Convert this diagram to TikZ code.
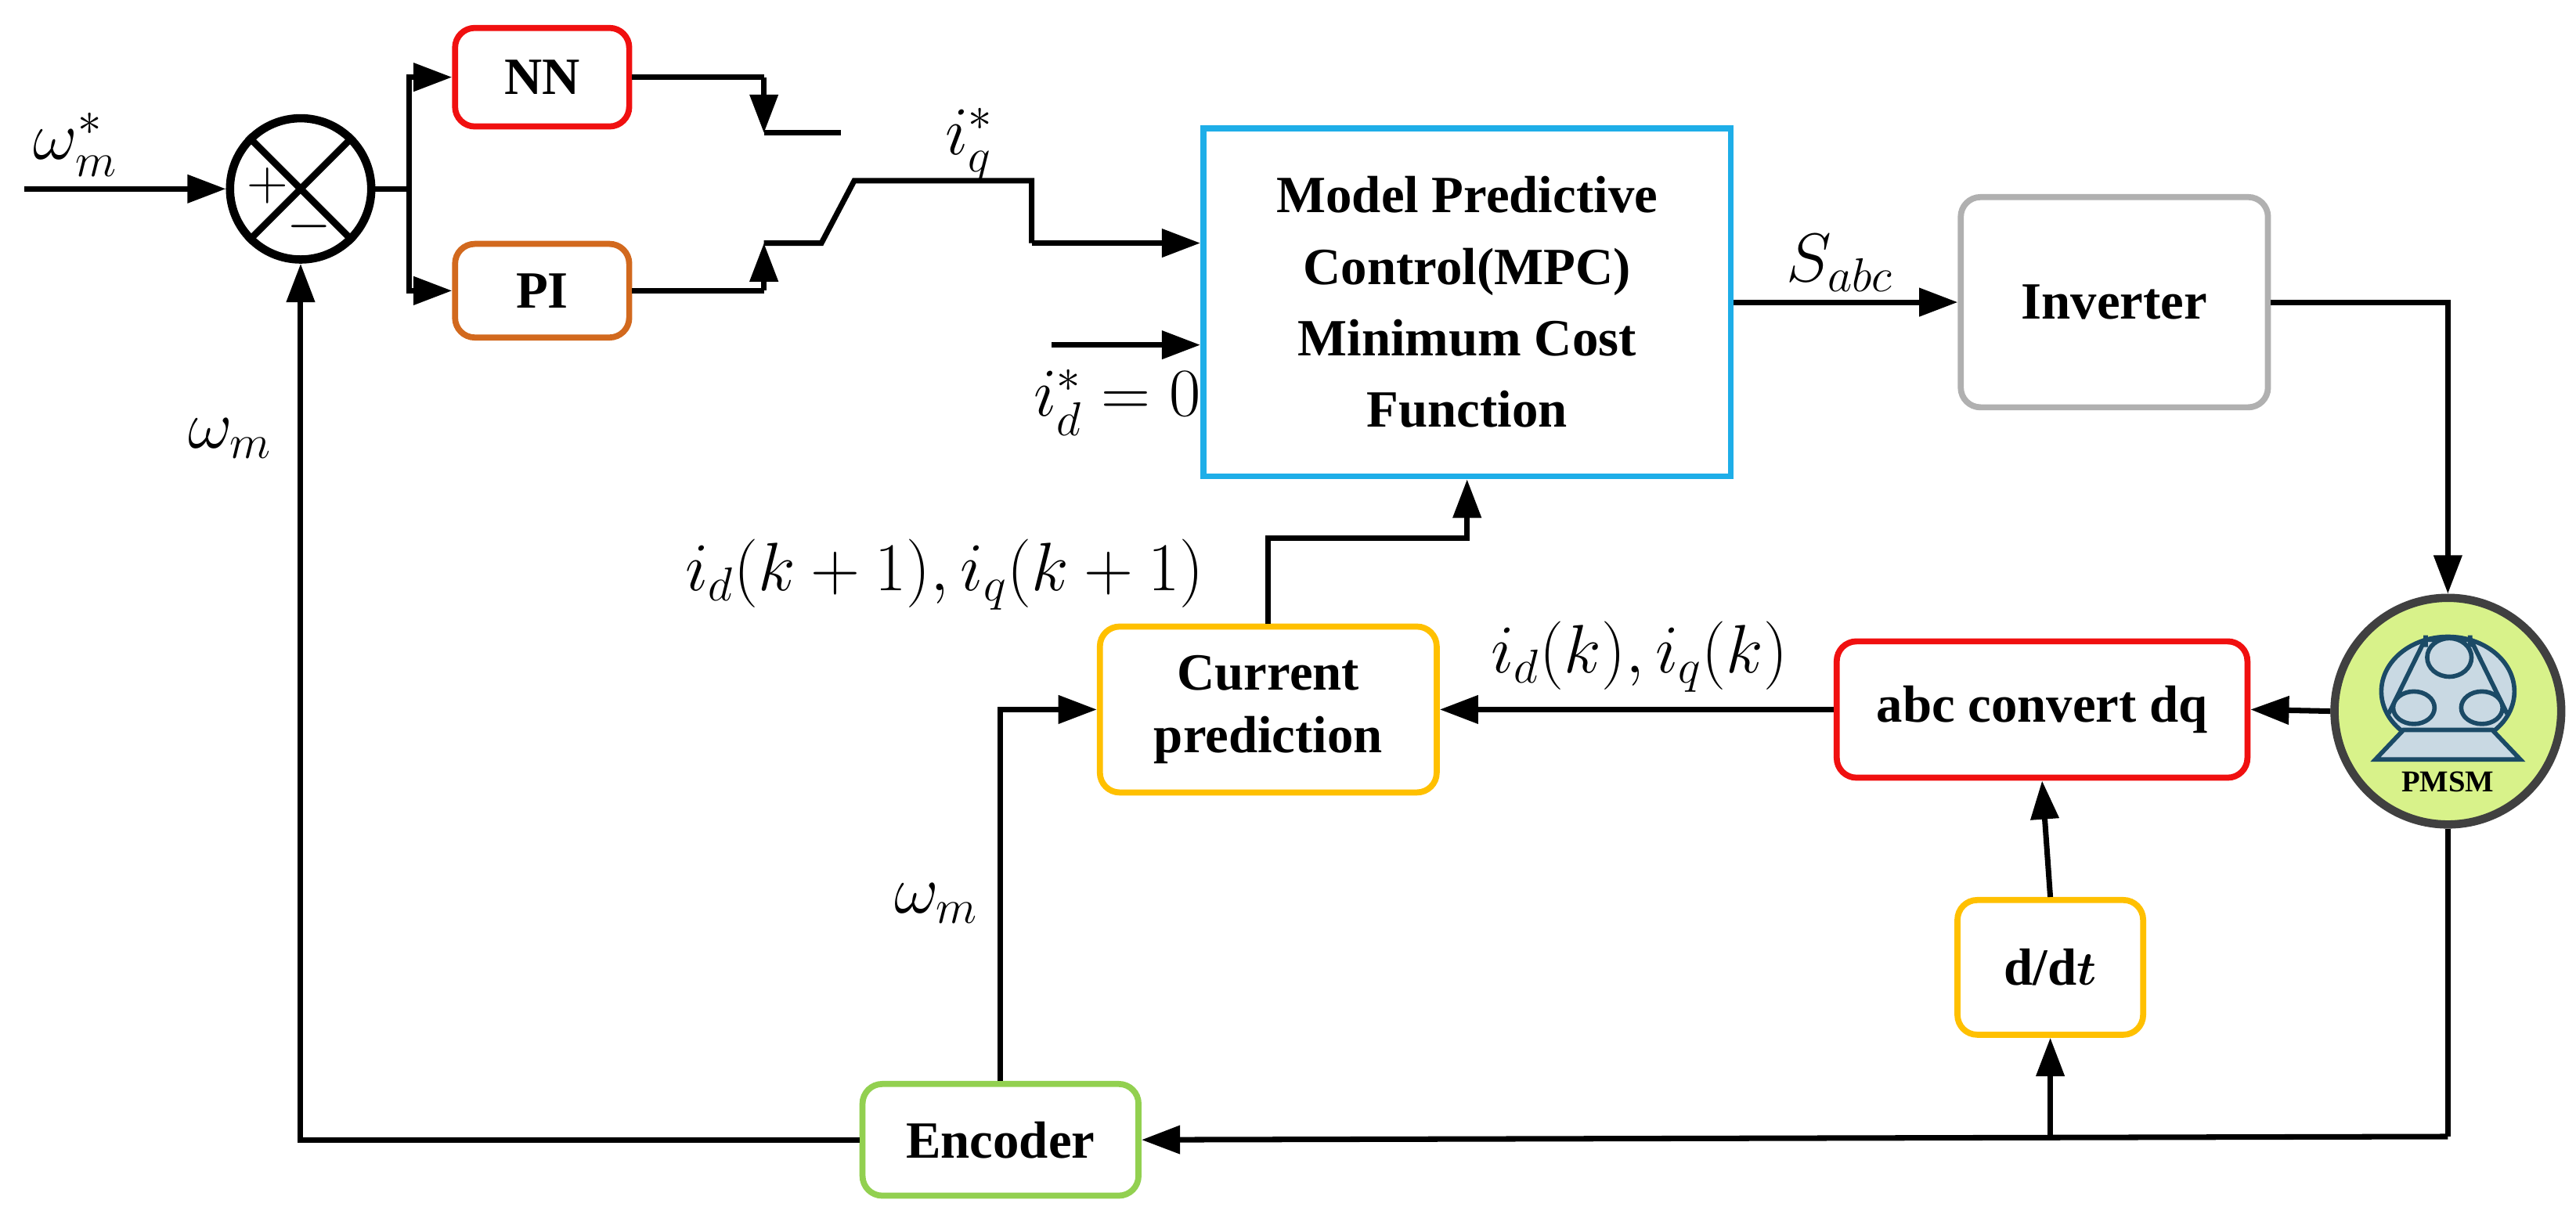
\documentclass[tikz,border=0pt]{standalone}
\usepackage{fontspec}
\setmainfont{Liberation Serif}
\usepackage{amsmath}
\usetikzlibrary{arrows.meta}
\newlength\ux \setlength\ux{0.02098cm}
\definecolor{cNN}{HTML}{F01010}
\definecolor{cPI}{HTML}{D2691E}
\definecolor{cMPC}{HTML}{1EAEE8}
\definecolor{cInv}{HTML}{B0B0B0}
\definecolor{cYel}{HTML}{FFC000}
\definecolor{cEnc}{HTML}{92D050}
\definecolor{cPM}{HTML}{D8F28A}
\definecolor{cIc}{HTML}{1B4A66}
\definecolor{cIf}{HTML}{C9D9E3}
\begin{document}
\begin{tikzpicture}[x=0.02098cm,y=-0.02098cm,
  blk/.style={draw,rounded corners=12\ux,line width=2.2pt,fill=white,align=center,font=\bfseries\fontsize{19}{23}\selectfont,inner sep=2pt},
  wire/.style={line width=2pt},
  arr/.style={line width=2pt,-{Triangle[length=14pt,width=10pt]}},
  lab/.style={font=\fontsize{24}{28}\selectfont}]
\useasboundingbox (0,0) rectangle (1568,745.5);
% blocks
\node[blk,draw=cNN,minimum width=106\ux,minimum height=60\ux] (nn) at (330,47) {NN};
\node[blk,draw=cPI,minimum width=106\ux,minimum height=57\ux] (pi) at (330,177) {PI};
\node[blk,draw=cMPC,rounded corners=0pt,minimum width=321\ux,minimum height=212\ux,font=\bfseries\fontsize{19}{26}\selectfont] (mpc) at (893,184) {Model Predictive\\Control(MPC)\\Minimum Cost\\Function};
\node[blk,draw=cInv,minimum width=187\ux,minimum height=128\ux] (inv) at (1287,184) {Inverter};
\node[blk,draw=cNN,minimum width=250\ux,minimum height=83\ux] (abc) at (1243,432) {abc convert dq};
\node[blk,draw=cYel,minimum width=205\ux,minimum height=101\ux] (cp) at (772,432) {Current\\prediction};
\node[blk,draw=cYel,minimum width=113\ux,minimum height=82\ux] (ddt) at (1248,589) {d/d$\boldsymbol{t}$};
\node[blk,draw=cEnc,minimum width=168\ux,minimum height=68\ux] (enc) at (609,694) {Encoder};
% sum
\node[circle,draw,line width=3pt,minimum size=86\ux,inner sep=0pt] (sum) at (183,115) {};
\draw[line width=2.5pt] (sum.north west)--(sum.south east) (sum.north east)--(sum.south west);
\node[font=\fontsize{22}{22}\selectfont] (plus) at (163,113) {$+$};
\node[font=\fontsize{22}{22}\selectfont] (minus) at (188,138) {$-$};
% PMSM
\node[circle,draw=black!75,line width=3pt,fill=cPM,minimum size=138\ux,inner sep=0pt] (pm) at (1490,433) {};
\begin{scope}[shift={(1490,439)},scale=0.9,line width=1.6pt,draw=cIc]
  \draw[cIc,fill=cIf] (0,-20) ellipse [x radius=45,y radius=37];
  \draw[cIc,fill=cIf] (-30,6)--(30,6)--(49,26)--(-49,26)--cycle;
  \draw[cIc] (-15,-56)--(-40,-5) (15,-56)--(40,-5) (-15,-58)--(-15,-50) (15,-58)--(15,-50) (-15,-55)--(15,-55);
  \draw[cIc,fill=cIf] (1,-43) ellipse [x radius=15,y radius=13];
  \draw[cIc,fill=cIf] (-23,-9) ellipse [x radius=14,y radius=11];
  \draw[cIc,fill=cIf] (23,-9) ellipse [x radius=14,y radius=11];
  \node[font=\bfseries\fontsize{11}{11}\selectfont] (pmt) at (0,41) {PMSM};
\end{scope}
% coordinates
\coordinate (in) at (15,115);
\coordinate (br) at (249,115);
\coordinate (nnsw) at (465,47);
\coordinate (nnc) at (465,81);
\coordinate (c1) at (512,81);
\coordinate (pisw) at (465,177);
\coordinate (pic) at (465,148);
\coordinate (k1) at (500,148);
\coordinate (k2) at (520,110);
\coordinate (k3) at (628,110);
\coordinate (k4) at (628,148);
\coordinate (idin) at (640,210);
\coordinate (pmb) at (1490,692);
\coordinate (dd) at (1248,692);
% wires
\draw[arr] (in) -- (sum);
\draw[wire] (sum.east) -- (br);
\draw[arr] (br) |- (nn.west);
\draw[arr] (br) |- (pi.west);
\draw[wire] (nn.east) -- (nnsw);
\draw[arr] (nnsw) -- (nnc);
\draw[wire] (nnc) -- (c1);
\draw[wire] (pi.east) -- (pisw);
\draw[arr] (pisw) -- (pic);
\draw[wire] (pic) -- (k1) -- (k2) -- (k3) -- (k4);
\draw[arr] (k4) -- (mpc.west |- k4);
\draw[arr] (idin) -- (mpc.west |- idin);
\draw[arr] (mpc.east |- inv.west) -- (inv.west);
\draw[arr] (inv.east) -| (pm.north);
\draw[arr] (pm.west) -- (abc.east);
\draw[arr] (abc.west) -- (cp.east);
\draw[arr] (cp.north) |- ++(121,-52) -- (mpc.south);
\draw[arr] (ddt.north) -- (abc.south);
\draw[wire] (pm.south) -- (pmb);
\draw[arr] (pmb) -- (enc.east);
\draw[arr] (dd) -- (ddt.south);
\draw[arr] (enc.north) |- (cp.west);
\draw[arr] (enc.west) -| (sum.south);
% labels
\node[lab] (l1) at (46,88) {$\omega_m^*$};
\node[lab] (l2) at (140,267) {$\omega_m$};
\node[lab] (l3) at (590,88) {$i_q^*$};
\node[lab] (l4) at (680,245) {$i_d^*=0$};
\node[lab] (l5) at (1120,160) {$S_{abc}$};
\node[lab] (l6) at (998,400) {$i_d(k),i_q(k)$};
\node[lab] (l7) at (575,350) {$i_d(k+1),i_q(k+1)$};
\node[lab] (l8) at (570,550) {$\omega_m$};
\end{tikzpicture}
\end{document}
